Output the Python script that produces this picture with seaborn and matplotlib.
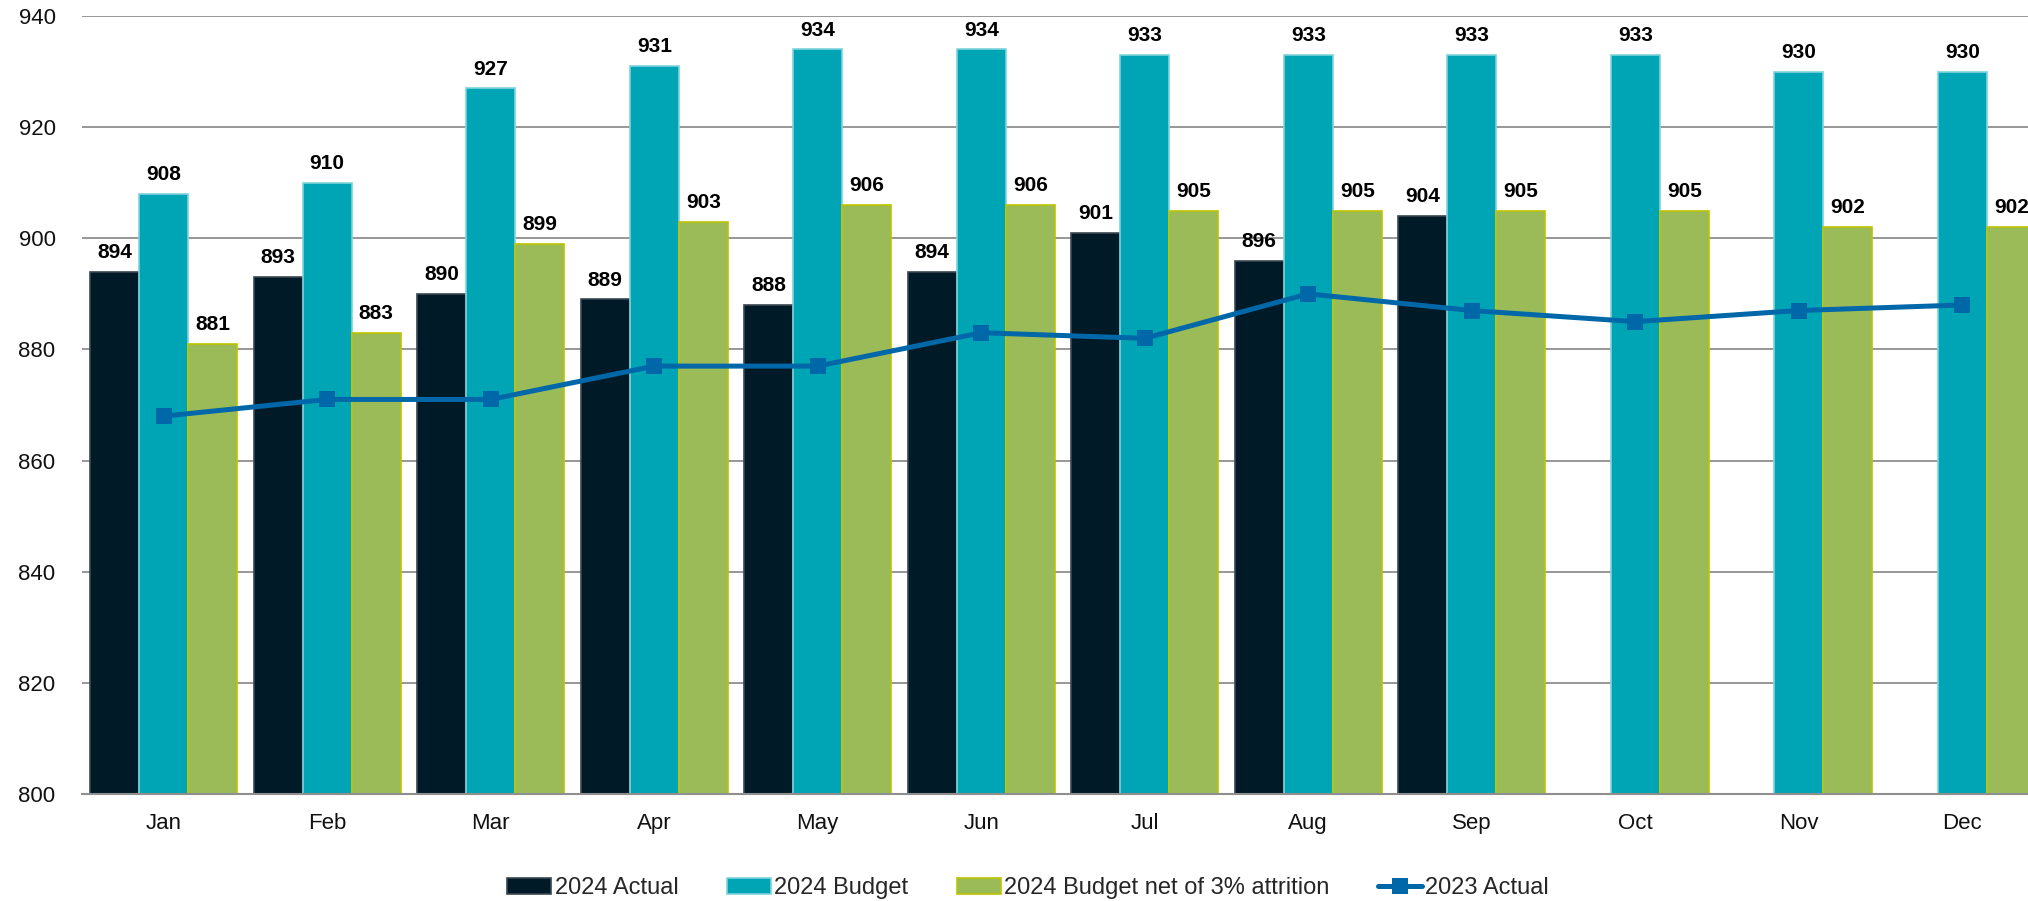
import numpy as np
import pandas as pd
import matplotlib
matplotlib.use("Agg")
import matplotlib.pyplot as plt
from matplotlib.patches import Patch
from matplotlib.lines import Line2D
import seaborn as sns

months = ["Jan", "Feb", "Mar", "Apr", "May", "Jun",
          "Jul", "Aug", "Sep", "Oct", "Nov", "Dec"]
actual_2024 = [894, 893, 890, 889, 888, 894, 901, 896, 904]
budget_2024 = [908, 910, 927, 931, 934, 934, 933, 933, 933, 933, 930, 930]
budget_net = [881, 883, 899, 903, 906, 906, 905, 905, 905, 905, 902, 902]
actual_2023 = [868, 871, 871, 877, 877, 883, 882, 890, 887, 885, 887, 888]

series = ["2024 Actual", "2024 Budget", "2024 Budget net of 3% attrition"]
colors = ["#011A27", "#00A5B5", "#9BBB59"]
edges = ["#3a4750", "#7fd3dc", "#BCC400"]
line_color = "#0068A8"

rows = []
for m, v in zip(months, actual_2024):
    rows.append((m, series[0], v))
for m, v in zip(months, budget_2024):
    rows.append((m, series[1], v))
for m, v in zip(months, budget_net):
    rows.append((m, series[2], v))
df = pd.DataFrame(rows, columns=["month", "series", "value"])

sns.set_theme(style="white")
plt.rcParams["font.family"] = ["Liberation Sans", "DejaVu Sans"]

fig = plt.figure(figsize=(20.28, 9.01), dpi=100)
ax = fig.add_axes([82 / 2028, 107 / 901, 1962 / 2028, 778 / 901])

sns.barplot(data=df, x="month", y="value", hue="series", order=months,
            hue_order=series, palette=colors, width=0.9, saturation=1,
            legend=False, ax=ax, zorder=2)

for cont, ec in zip(ax.containers, edges):
    for bar in cont:
        bar.set_edgecolor(ec)
        bar.set_linewidth(1.2)
    ax.bar_label(cont, fmt="%.0f", padding=7, fontsize=15,
                 fontweight="bold", color="black", zorder=5)

sns.lineplot(x=np.arange(len(months)), y=actual_2023, ax=ax, color=line_color,
             linewidth=3.6, marker="s", markersize=11, markeredgewidth=0,
             zorder=4)

ax.set_xlim(-0.5, len(months) - 0.5)
ax.set_ylim(800, 940)
ax.set_yticks(range(800, 941, 20))
ax.yaxis.grid(True, color="#8f8f8f", linewidth=1.3, zorder=0)
ax.set_axisbelow(True)
for s in ["left", "right", "top"]:
    ax.spines[s].set_visible(False)
ax.spines["bottom"].set_color("#8f8f8f")
ax.spines["bottom"].set_linewidth(1.5)
ax.tick_params(axis="y", length=0, pad=19, labelsize=16, labelcolor="#111111")
ax.tick_params(axis="x", length=0, pad=14, labelsize=16, labelcolor="#111111")
ax.set_xlabel("")
ax.set_ylabel("")

handles = [Patch(facecolor=c, edgecolor=e, linewidth=1.2) for c, e in zip(colors, edges)]
handles.append(Line2D([0], [0], color=line_color, linewidth=3.6, marker="s",
                      markersize=11, markeredgewidth=0))
fig.legend(handles, series + ["2023 Actual"], loc="center",
           bbox_to_anchor=(0.507, 0.014), ncol=4, frameon=False, fontsize=17,
           handlelength=1.86, handleheight=0.65, handletextpad=0.15,
           columnspacing=2.05)

fig.savefig("out.png", dpi=100)
